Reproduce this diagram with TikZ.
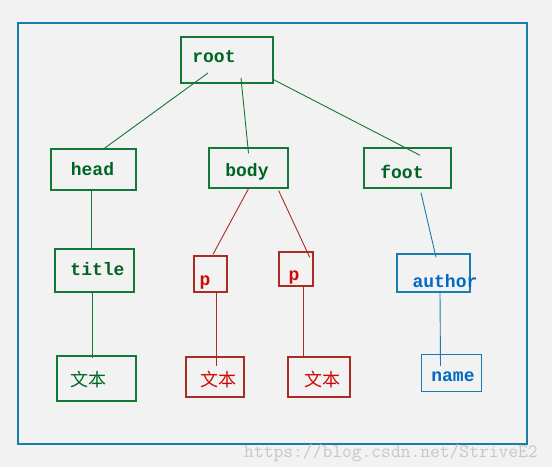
\documentclass[tikz,border=0pt]{standalone}
\usepackage{fontspec}
\newfontfamily\labelfont{Liberation Mono}
\newfontfamily\cjk{Noto Sans CJK SC}
\definecolor{bgcol}{RGB}{241,242,241}
\definecolor{framecol}{RGB}{25,125,170}
\definecolor{boxgreen}{RGB}{20,120,55}
\definecolor{txtgreen}{RGB}{0,100,35}
\definecolor{boxred}{RGB}{170,45,35}
\definecolor{txtred}{RGB}{205,10,5}
\definecolor{boxblue}{RGB}{25,125,175}
\definecolor{txtblue}{RGB}{0,105,195}
\tikzset{
  treebox/.style={draw, line width=1.4pt, inner sep=0pt},
  greenbox/.style={treebox, draw=boxgreen},
  redbox/.style={treebox, draw=boxred},
  bluebox/.style={treebox, draw=boxblue},
  word/.style={inner sep=0pt, font=\fontsize{18}{18}\selectfont\labelfont\bfseries},
  cnword/.style={inner sep=0pt, font=\fontsize{18}{18}\selectfont\cjk},
  greenedge/.style={draw=boxgreen, line width=0.9pt},
  rededge/.style={draw=boxred, line width=0.9pt},
  blueedge/.style={draw=boxblue, line width=0.9pt}
}
\begin{document}
\begin{tikzpicture}[x=1pt, y=-1pt]
  \fill[bgcol] (0,0) rectangle (552,467);
  \useasboundingbox (0,0) rectangle (552,467);
  \draw[framecol, line width=1.6pt] (18,23) rectangle (527,444);

  % boxes
  \node[greenbox, minimum width=92, minimum height=46] (root) at (227,60) {};
  \node[greenbox, minimum width=85, minimum height=41] (head) at (93.5,169.5) {};
  \node[greenbox, minimum width=79, minimum height=40] (body) at (248.5,168) {};
  \node[greenbox, minimum width=87, minimum height=40] (foot) at (407.5,168) {};
  \node[greenbox, minimum width=79, minimum height=43] (title) at (94.5,270.5) {};
  \node[redbox, minimum width=33, minimum height=36] (p1) at (210.5,274) {};
  \node[redbox, minimum width=34, minimum height=34] (p2) at (296,269) {};
  \node[bluebox, minimum width=73, minimum height=38] (author) at (433.5,273) {};
  \node[greenbox, minimum width=79, minimum height=45] (text1) at (96.5,378.5) {};
  \node[redbox, minimum width=58, minimum height=40] (text2) at (215,377) {};
  \node[redbox, minimum width=62, minimum height=40] (text3) at (319,377) {};
  \node[bluebox, minimum width=60, minimum height=37] (name) at (451.5,373) {};

  % labels
  \node[word, text=txtgreen] (root-l) at (214,57) {root};
  \node[word, text=txtgreen] (head-l) at (92.5,169) {head};
  \node[word, text=txtgreen] (body-l) at (247,172) {body};
  \node[word, text=txtgreen] (foot-l) at (402,172) {foot};
  \node[word, text=txtgreen] (title-l) at (97.5,269) {title};
  \node[word, text=txtred] (p1-l) at (205,283) {p};
  \node[word, text=txtred] (p2-l) at (294,278) {p};
  \node[word, text=txtblue] (author-l) at (445,281) {author};
  \node[cnword, text=txtgreen] (text1-l) at (88,380) {文本};
  \node[cnword, text=txtred] (text2-l) at (218,380) {文本};
  \node[cnword, text=txtred] (text3-l) at (322,380) {文本};
  \node[word, text=txtblue] (name-l) at (453,377) {name};

  % connectors
  \draw[greenedge] ([shift={(-19,13)}]root.center) -- ([shift={(9.5,1)}]head.north);
  \draw[greenedge] ([shift={(14,18)}]root.center) -- ([shift={(0,6)}]body.north);
  \draw[greenedge] ([shift={(0,-4)}]root.south east) -- ([shift={(12.5,8)}]foot.north);
  \draw[greenedge] ([xshift=-2.5]head.south) -- ([xshift=-3.5]title.north);
  \draw[greenedge] ([xshift=-2.5]title.south) -- ([shift={(-4.5,3)}]text1.north);
  \draw[rededge] (body.south) -- ([shift={(2.5,-1)}]p1.north);
  \draw[rededge] ([shift={(-10,2)}]body.south east) -- ([shift={(-4,6)}]p2.north east);
  \draw[rededge] ([xshift=5.5]p1.south) -- ([shift={(1,10)}]text2.north);
  \draw[rededge] ([xshift=7]p2.south) -- ([xshift=-16]text3.north);
  \draw[blueedge] ([shift={(13.5,4)}]foot.south) -- ([shift={(2.5,4)}]author.north);
  \draw[blueedge] ([xshift=6.5]author.south) -- ([shift={(-11,12)}]name.north);

  \node[inner sep=0pt, text=black!22, font=\fontsize{19}{19}\selectfont\ttfamily]
    (mark) at (391,453) {https://blog.csdn.net/StriveE2};
\end{tikzpicture}
\end{document}
